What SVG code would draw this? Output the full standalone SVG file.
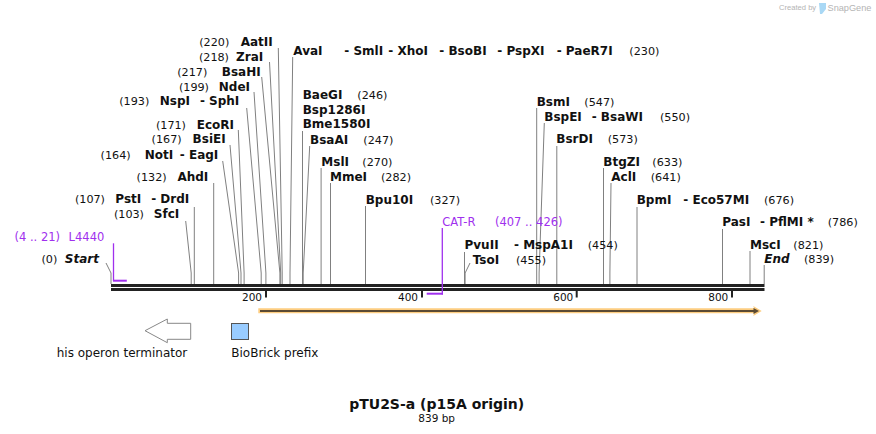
<svg xmlns="http://www.w3.org/2000/svg" width="876" height="434" viewBox="0 0 876 434">
<style>
text{font-family:"DejaVu Sans","Verdana",sans-serif;fill:#111}
.nm{font-size:12px;font-weight:bold}
.num{font-size:11.2px}
.pr{font-size:11.5px;fill:#a030ee}
.it{font-style:italic}
.e{text-anchor:end}
.tk{font-size:10.5px;text-anchor:end}
.cut{fill:none;stroke:#808080;stroke-width:1}
.prl{fill:none;stroke:#a030ee}
.wm{font-family:"Liberation Sans",Arial,sans-serif;fill:#b4b4b4}
</style>
<rect width="876" height="434" fill="#fff"/>
<g id="watermark">
<text class="wm" x="779" y="10" font-size="7.6">Created by</text>
<path d="M819,3 L826,3 L826,9 L822,14 L820,14 Z" fill="#a9d8f5"/>
<text class="wm" x="827.5" y="10.5" font-size="9.2">SnapGene</text>
</g>
<g id="connectors">
<path class="cut" d="M278.3,48 L282.2,273 V284"/>
<path class="cut" d="M269.5,62 L280.7,273 V284"/>
<path class="cut" d="M261.7,77 L279.9,273 V284"/>
<path class="cut" d="M254,92 L265.9,273 V284"/>
<path class="cut" d="M246.7,108 L261.2,273 V284"/>
<path class="cut" d="M238.3,130 L244.1,273 V284"/>
<path class="cut" d="M230,145 L241,273 V284"/>
<path class="cut" d="M222.7,161 L238.6,273 V284"/>
<path class="cut" d="M213.7,183 V284"/>
<path class="cut" d="M194.3,207 V284"/>
<path class="cut" d="M185.7,221 L191.2,273 V284"/>
<path class="cut" d="M106,263 L111,273 V284"/>
<path class="cut" d="M292.7,57 L290,273 V284"/>
<path class="cut" d="M302.5,131 V284"/>
<path class="cut" d="M309.7,146 L303.2,273 V284"/>
<path class="cut" d="M321.1,168 V284"/>
<path class="cut" d="M330.5,183 V284"/>
<path class="cut" d="M365.5,206 V284"/>
<path class="cut" d="M464.5,252 V284"/>
<path class="cut" d="M470,263 L465.1,273 V284"/>
<path class="cut" d="M536.7,108 V284"/>
<path class="cut" d="M544.3,123 L539.1,273 V284"/>
<path class="cut" d="M556.8,146 V284"/>
<path class="cut" d="M603.5,168 V284"/>
<path class="cut" d="M611,183 L609.9,273 V284"/>
<path class="cut" d="M637,207 V284"/>
<path class="cut" d="M722.5,229 V284"/>
<path class="cut" d="M750,251 V284"/>
<path class="cut" d="M764.2,265 V284"/>
</g>
<g id="backbone">
<rect x="111" y="284" width="653.5" height="3" fill="#222"/>
<rect x="111" y="288" width="653.5" height="3" fill="#222"/>
<rect x="265" y="291" width="2" height="6.5" fill="#222"/>
<rect x="421" y="291" width="2" height="6.5" fill="#222"/>
<rect x="575.7" y="291" width="2" height="6.5" fill="#222"/>
<rect x="731" y="291" width="2" height="6.5" fill="#222"/>
<text class="tk" x="262" y="300.5">200</text>
<text class="tk" x="418" y="300.5">400</text>
<text class="tk" x="573.3" y="300.5">600</text>
<text class="tk" x="728.3" y="300.5">800</text>
</g>
<g id="AatII"><text class="num e" x="229.3" y="46">(220)</text><text class="nm e" x="272.7" y="46">AatII</text></g>
<g id="ZraI"><text class="num e" x="229" y="60.7">(218)</text><text class="nm e" x="263.3" y="60.7">ZraI</text></g>
<g id="BsaHI"><text class="num e" x="207.3" y="75.7">(217)</text><text class="nm e" x="260.7" y="75.7">BsaHI</text></g>
<g id="NdeI"><text class="num e" x="209" y="90.7">(199)</text><text class="nm e" x="250" y="90.7">NdeI</text></g>
<g id="NspI"><text class="num e" x="149.3" y="105.3">(193)</text><text class="nm e" x="190" y="105.3">NspI</text><text class="nm e" x="239.3" y="105.3">- SphI</text></g>
<g id="EcoRI"><text class="num e" x="186" y="128.7">(171)</text><text class="nm e" x="234" y="128.7">EcoRI</text></g>
<g id="BsiEI"><text class="num e" x="181.7" y="143.3">(167)</text><text class="nm e" x="225.7" y="143.3">BsiEI</text></g>
<g id="NotI"><text class="num e" x="130.7" y="158.7">(164)</text><text class="nm e" x="173.3" y="158.7">NotI</text><text class="nm e" x="218.3" y="158.7">- EagI</text></g>
<g id="AhdI"><text class="num e" x="166.7" y="180.7">(132)</text><text class="nm e" x="208.3" y="180.7">AhdI</text></g>
<g id="PstI"><text class="num e" x="105" y="203.3">(107)</text><text class="nm e" x="141.3" y="203.3">PstI</text><text class="nm e" x="189.3" y="203.3">- DrdI</text></g>
<g id="SfcI"><text class="num e" x="144" y="218.3">(103)</text><text class="nm e" x="179.3" y="218.3">SfcI</text></g>
<g id="L4440">
<text class="pr e" x="60" y="240.7">(4 .. 21)</text><text class="pr e" x="104.3" y="240.7">L4440</text>
<path class="prl" d="M113.5,243.3 V281" stroke-width="1.3"/>
<path class="prl" d="M113,280.7 H126.8" stroke-width="2"/>
</g>
<g id="Start"><text class="num e" x="57.3" y="263.3">(0)</text><text class="nm it e" x="99" y="263.3">Start</text></g>
<g id="AvaI">
<text class="nm" x="293.3" y="55">AvaI</text>
<text class="nm" x="344.3" y="55">- SmlI</text>
<text class="nm" x="388.3" y="55">- XhoI</text>
<text class="nm" x="439.3" y="55">- BsoBI</text>
<text class="nm" x="497.3" y="55">- PspXI</text>
<text class="nm" x="556.7" y="55">- PaeR7I</text>
<text class="num" x="629.3" y="55">(230)</text>
</g>
<g id="BaeGI">
<text class="nm" x="302.7" y="99.3">BaeGI</text><text class="num" x="357.3" y="99.3">(246)</text>
<text class="nm" x="302.7" y="113.8">Bsp1286I</text>
<text class="nm" x="302.7" y="128.3">Bme1580I</text>
</g>
<g id="BsaAI"><text class="nm" x="310" y="144">BsaAI</text><text class="num" x="363.3" y="144">(247)</text></g>
<g id="MslI"><text class="nm" x="321.3" y="165.7">MslI</text><text class="num" x="362.3" y="165.7">(270)</text></g>
<g id="MmeI"><text class="nm" x="330" y="180.7">MmeI</text><text class="num" x="381" y="180.7">(282)</text></g>
<g id="Bpu10I"><text class="nm" x="365.7" y="204">Bpu10I</text><text class="num" x="430" y="204">(327)</text></g>
<g id="CAT-R">
<text class="pr" x="442.3" y="225.7">CAT-R</text><text class="pr" x="495" y="225.7">(407 .. 426)</text>
<path class="prl" d="M442.3,228 V294.5" stroke-width="1.3"/>
<path class="prl" d="M426.7,293.7 H443" stroke-width="2"/>
</g>
<g id="PvuII"><text class="nm" x="464.5" y="249">PvuII</text><text class="nm" x="514" y="249">- MspA1I</text><text class="num" x="587.7" y="249">(454)</text></g>
<g id="TsoI"><text class="nm" x="472.7" y="264">TsoI</text><text class="num" x="516" y="264">(455)</text></g>
<g id="BsmI"><text class="nm" x="536.7" y="105.7">BsmI</text><text class="num" x="584.3" y="105.7">(547)</text></g>
<g id="BspEI"><text class="nm" x="544.3" y="120.7">BspEI</text><text class="nm" x="591.7" y="120.7">- BsaWI</text><text class="num" x="660" y="120.7">(550)</text></g>
<g id="BsrDI"><text class="nm" x="556.3" y="143.3">BsrDI</text><text class="num" x="607.7" y="143.3">(573)</text></g>
<g id="BtgZI"><text class="nm" x="603.3" y="165.7">BtgZI</text><text class="num" x="652.3" y="165.7">(633)</text></g>
<g id="AclI"><text class="nm" x="611.3" y="180.7">AclI</text><text class="num" x="650.7" y="180.7">(641)</text></g>
<g id="BpmI"><text class="nm" x="636.7" y="204">BpmI</text><text class="nm" x="683.3" y="204">- Eco57MI</text><text class="num" x="764" y="204">(676)</text></g>
<g id="PasI"><text class="nm" x="722.3" y="226">PasI</text><text class="nm" x="760" y="226">- PflMI *</text><text class="num" x="827.7" y="226">(786)</text></g>
<g id="MscI"><text class="nm" x="750" y="249">MscI</text><text class="num" x="793.3" y="249">(821)</text></g>
<g id="End"><text class="nm it" x="764.3" y="263.3">End</text><text class="num" x="804" y="263.3">(839)</text></g>
<g id="p15A-origin">
<path d="M258.3,308.3 H754 L753.3,306 L761.7,311 L753.3,316 L754,313.3 H258.3 Z" fill="#fdcd80"/>
<rect x="260" y="310" width="494" height="2" fill="#5b4a33"/>
<path d="M753.5,308 L759,311 L753.5,314 Z" fill="#5b4a33"/>
</g>
<g id="his-operon-terminator">
<path d="M145,330.7 L167.3,319 V323.3 H190.7 V339.3 H167.3 V342.7 Z" fill="#fff" stroke="#888" stroke-width="1"/>
<text x="56.7" y="357" font-size="12">his operon terminator</text>
</g>
<g id="BioBrick-prefix">
<rect x="231.5" y="323.5" width="17" height="16" fill="#99ccff" stroke="#555" stroke-width="1"/>
<text x="231.3" y="357" font-size="12">BioBrick prefix</text>
</g>
<g id="title">
<text x="436.7" y="409" font-size="14" font-weight="bold" text-anchor="middle">pTU2S-a (p15A origin)</text>
<text x="436.7" y="421.5" font-size="10.5" text-anchor="middle">839 bp</text>
</g>
</svg>
